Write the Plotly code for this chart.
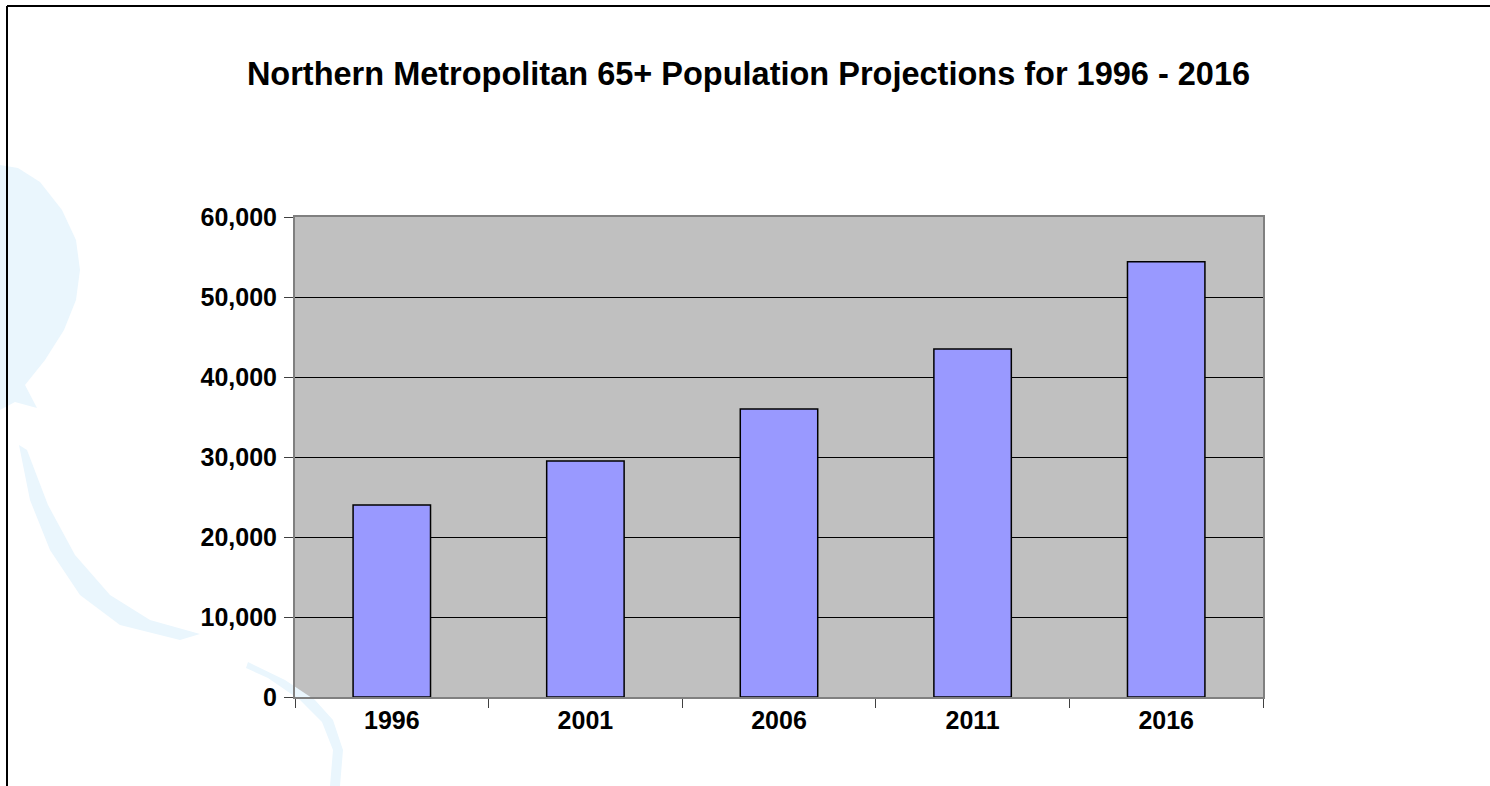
import plotly.graph_objects as go

years = ["1996", "2001", "2006", "2011", "2016"]
population = [24000, 29500, 36000, 43500, 54400]
y_ticks = [0, 10000, 20000, 30000, 40000, 50000, 60000]
y_tick_labels = ["0", "10,000", "20,000", "30,000", "40,000", "50,000", "60,000"]
title_text = "Northern Metropolitan 65+ Population Projections for 1996 - 2016"

W, H = 1490, 786
L, R, T, B = 295, 1263, 217, 697

def px(x):
    return (x - L) / (R - L)

def py(y):
    return (B - y) / (B - T)

def path(points, close=True):
    s = "M " + " L ".join(f"{px(x):.5f},{py(y):.5f}" for x, y in points)
    return s + (" Z" if close else "")

fig = go.Figure()
fig.add_trace(go.Bar(
    x=years, y=population, width=0.4,
    marker=dict(color="#9999FF", line=dict(color="black", width=1.5)),
))

swirl = "#EAF6FD"
shapes = [
    dict(type="path", xref="paper", yref="paper", layer="below",
         path=path([(0, 165), (18, 168), (40, 182), (62, 210), (76, 240), (80, 270),
                    (76, 300), (64, 330), (45, 360), (25, 385), (37, 408), (15, 402),
                    (0, 410)]),
         fillcolor=swirl, line=dict(width=0)),
    dict(type="path", xref="paper", yref="paper", layer="below",
         path=path([(19, 445), (30, 500), (50, 550), (80, 595), (120, 625), (180, 640),
                    (200, 634), (150, 620), (110, 595), (75, 555), (48, 505), (27, 450)]),
         fillcolor=swirl, line=dict(width=0)),
    dict(type="path", xref="paper", yref="paper", layer="below",
         path=path([(248, 662), (285, 680), (315, 700), (333, 720), (343, 750), (340, 786),
                    (330, 786), (333, 750), (322, 722), (300, 700), (268, 678), (246, 668)]),
         fillcolor=swirl, line=dict(width=0)),
    dict(type="line", xref="paper", yref="paper", layer="above",
         x0=px(7), y0=py(6), x1=px(7), y1=py(786), line=dict(color="black", width=2)),
    dict(type="line", xref="paper", yref="paper", layer="above",
         x0=px(7), y0=py(6), x1=px(1490), y1=py(6), line=dict(color="black", width=2)),
]

font_family = "Liberation Sans, Arial, sans-serif"

fig.update_layout(
    width=W, height=H,
    margin=dict(l=L, r=W - R, t=T, b=H - B, pad=0),
    paper_bgcolor="white",
    plot_bgcolor="#C0C0C0",
    showlegend=False,
    bargap=0.6,
    shapes=shapes,
    title=dict(text=f"<b>{title_text}</b>", x=748.5 / W, xanchor="center",
               y=1 - 74 / H, yanchor="middle", yref="container",
               font=dict(family=font_family, size=32.5, color="black")),
    font=dict(family=font_family, color="black"),
)
fig.update_xaxes(
    type="category", tickson="boundaries", ticks="outside", ticklen=9, tickcolor="#404040",
    showline=True, linecolor="#808080", linewidth=2, mirror=True,
    showgrid=False, tickfont=dict(family=font_family, size=25, color="black"),
    tickprefix="<b>", ticksuffix="</b>",
)
fig.update_yaxes(
    range=[0, 60000], tickvals=y_ticks,
    ticktext=[f"<b>{t}</b>" for t in y_tick_labels],
    ticks="outside", ticklen=9, tickcolor="#404040", ticklabelstandoff=2,
    showline=True, linecolor="#808080", linewidth=2, mirror=True,
    showgrid=True, gridcolor="black", gridwidth=1, zeroline=False,
    tickfont=dict(family=font_family, size=25, color="black"),
)

fig.write_html("out.html", config={"displayModeBar": False},
               post_script="document.body.style.margin='0';")
